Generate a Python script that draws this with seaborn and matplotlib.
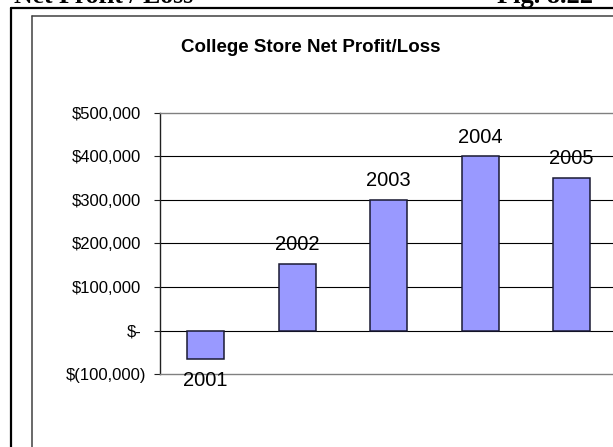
import matplotlib
matplotlib.use("Agg")
import matplotlib.pyplot as plt
from matplotlib.lines import Line2D
from matplotlib.transforms import ScaledTranslation
import seaborn as sns
import pandas as pd

# Yearly net profit / loss of the college store
years = ["2001", "2002", "2003", "2004", "2005"]
net_profit = [-65000, 152000, 300000, 400000, 350000]
y_ticks = [-100000, 0, 100000, 200000, 300000, 400000, 500000]
y_tick_labels = ["$(100,000)", "$-", "$100,000", "$200,000", "$300,000",
                 "$400,000", "$500,000"]

df = pd.DataFrame({"year": years, "profit": net_profit})

sns.set_theme(style="white")
plt.rcParams["font.family"] = ["Liberation Sans", "DejaVu Sans"]

W, H = 613, 447
fig = plt.figure(figsize=(W / 100, H / 100), dpi=100)
fig.patch.set_facecolor("white")


def fx(px):
    return px / W


def fy(py):
    return 1 - py / H


# page heading, partly cut off by the top edge
fig.text(fx(14), fy(3), "Net Profit / Loss", family="Liberation Serif",
         weight="bold", fontsize=18.5, va="baseline", ha="left", color="black")
fig.text(fx(497), fy(3), "Fig. 8.22", family="Liberation Serif",
         weight="bold", fontsize=19, va="baseline", ha="left", color="black")

# frame around the figure and the chart area
fig.add_artist(Line2D([fx(10.5), fx(W + 5)], [fy(7.5), fy(7.5)],
                      transform=fig.transFigure, color="black", lw=1.6))
fig.add_artist(Line2D([fx(10.5), fx(10.5)], [fy(7.5), fy(H + 5)],
                      transform=fig.transFigure, color="black", lw=1.6))
fig.add_artist(Line2D([fx(32), fx(W + 5)], [fy(16), fy(16)],
                      transform=fig.transFigure, color="#404040", lw=1.1))
fig.add_artist(Line2D([fx(32), fx(32)], [fy(16), fy(H + 5)],
                      transform=fig.transFigure, color="#404040", lw=1.1))

fig.text(fx(311), fy(47), "College Store Net Profit/Loss", weight="bold",
         fontsize=13.5, ha="center", va="center", color="black")

left, right, top, bottom = 160, 617.5, 113, 374
ax = fig.add_axes([fx(left), fy(bottom), fx(right - left), (bottom - top) / H])
ax.set_facecolor("white")

sns.barplot(data=df, x="year", y="profit", ax=ax, width=0.4,
            color="#9999FF", saturation=1, edgecolor="#1a1a33", linewidth=1.1,
            zorder=3)

ax.set_xlim(-0.5, 4.5)
ax.set_ylim(-100000, 500000)
ax.set_yticks(y_ticks)
ax.set_yticklabels(y_tick_labels)
ax.set_xticks([])
ax.set_xlabel("")
ax.set_ylabel("")

for v in y_ticks[1:-1]:
    ax.axhline(v, color="black", lw=0.8, zorder=1)

for side in ["top", "bottom"]:
    ax.spines[side].set_visible(True)
    ax.spines[side].set_color("#808080")
    ax.spines[side].set_linewidth(1.0)
ax.spines["left"].set_color("#202020")
ax.spines["left"].set_linewidth(1.0)
ax.spines["right"].set_visible(False)

ax.tick_params(axis="y", which="major", direction="out", length=4.5,
               width=0.8, color="#202020", left=True, pad=9,
               labelsize=12, labelcolor="black")

# the negative label carries a closing parenthesis past the digit column
neg_label = ax.get_yticklabels()[0]
neg_label.set_transform(neg_label.get_transform() +
                        ScaledTranslation(5 / 100, 0, fig.dpi_scale_trans))

# year labels above positive bars, below negative ones
for i, (yr, val) in enumerate(zip(years, net_profit)):
    if val >= 0:
        ax.annotate(yr, (i, val), xytext=(0, 10), textcoords="offset points",
                    ha="center", va="baseline", fontsize=14.5, color="black",
                    zorder=4)
    else:
        ax.annotate(yr, (i, val), xytext=(0, -8.5), textcoords="offset points",
                    ha="center", va="top", fontsize=14.5, color="black",
                    zorder=4)

fig.savefig("out.png", dpi=100)
